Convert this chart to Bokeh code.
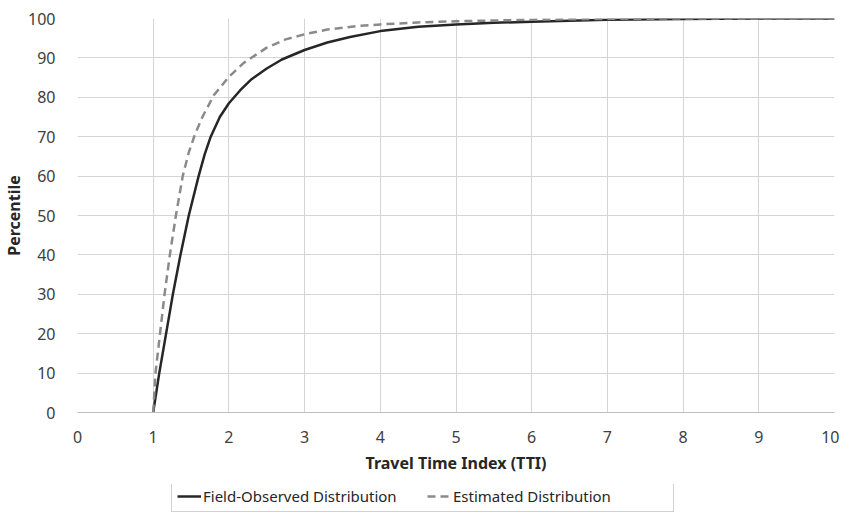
from bokeh.plotting import figure
from bokeh.layouts import column
from bokeh.models import Legend, LegendItem, FixedTicker, Range1d
from bokeh.embed import file_html
from bokeh.resources import INLINE

# Field-observed distribution (solid)
tti_observed = [1.0, 1.08, 1.17, 1.26, 1.36, 1.47, 1.60, 1.68, 1.76, 1.88, 2.0, 2.15, 2.3, 2.5, 2.7,
                3.0, 3.3, 3.6, 4.0, 4.5, 5.0, 5.5, 6.0, 7.0, 8.0, 9.0, 10.0]
pct_observed = [0, 10, 20, 30, 40, 50, 60, 65.5, 70, 75, 78.5, 81.8, 84.6, 87.3, 89.6,
                92.0, 93.9, 95.3, 96.8, 97.9, 98.5, 98.9, 99.2, 99.7, 99.9, 100, 100]

# Estimated distribution (dashed)
tti_estimated = [1.0, 1.03, 1.09, 1.15, 1.22, 1.30, 1.39, 1.47, 1.55, 1.65, 1.8, 2.0, 2.2, 2.5,
                 2.75, 3.0, 3.3, 3.7, 4.0, 4.5, 5.0, 6.0, 7.0, 8.0, 10.0]
pct_estimated = [0, 10, 20, 30, 40, 50, 60, 66, 70.5, 75, 80.5, 85.2, 88.8, 92.6,
                 94.7, 96.0, 97.2, 98.1, 98.5, 99, 99.3, 99.7, 99.9, 100, 100]

x_ticks = [0, 1, 2, 3, 4, 5, 6, 7, 8, 9, 10]
y_ticks = [0, 10, 20, 30, 40, 50, 60, 70, 80, 90, 100]

FONT = "Noto Sans"
SOLID_STYLE = dict(line_color="#262626", line_width=2.5)
DASH_STYLE = dict(line_color="#8a8a8a", line_width=2.5, line_dash="8 5")

p = figure(frame_width=757, frame_height=394, output_backend="svg", toolbar_location=None,
           x_range=Range1d(0, 10), y_range=Range1d(0, 100),
           min_border_left=76, min_border_right=5, min_border_top=18, min_border_bottom=72)
p.outline_line_color = None

p.line(tti_observed, pct_observed, **SOLID_STYLE)
p.line(tti_estimated, pct_estimated, **DASH_STYLE)

for ax in (p.xaxis[0], p.yaxis[0]):
    ax.major_label_text_font = FONT
    ax.major_label_text_font_size = "16px"
    ax.major_label_text_color = "#404040"
    ax.axis_label_text_font = FONT
    ax.axis_label_text_font_size = "16px"
    ax.axis_label_text_font_style = "bold"
    ax.axis_label_text_color = "#262626"
    ax.major_tick_line_color = None
    ax.minor_tick_line_color = None

p.xaxis.ticker = FixedTicker(ticks=x_ticks)
p.yaxis.ticker = FixedTicker(ticks=y_ticks)
p.xaxis.axis_label = "Travel Time Index (TTI)"
p.yaxis.axis_label = "Percentile"
p.xaxis.axis_line_color = "#bfbfbf"
p.yaxis.axis_line_color = None
p.xaxis.major_label_standoff = 12
p.yaxis.major_label_standoff = 16
p.xaxis.axis_label_standoff = 6
p.yaxis.axis_label_standoff = 0

p.xgrid.grid_line_color = "#d4d4d4"
p.ygrid.grid_line_color = "#d4d4d4"
p.xgrid.ticker = FixedTicker(ticks=x_ticks)
p.ygrid.ticker = FixedTicker(ticks=y_ticks)

# Legend strip below the chart (its lines reuse the series, kept outside the visible range)
lg = figure(width=838, height=28, output_backend="svg", toolbar_location=None,
            x_range=Range1d(-20, -10), y_range=Range1d(0, 100),
            min_border_left=0, min_border_right=0, min_border_top=0, min_border_bottom=0)
lg.axis.visible = False
lg.grid.visible = False
lg.outline_line_color = None
ls = lg.line(tti_observed, pct_observed, **SOLID_STYLE)
ld = lg.line(tti_estimated, pct_estimated, **DASH_STYLE)

legend = Legend(items=[LegendItem(label="Field-Observed Distribution", renderers=[ls]),
                       LegendItem(label="Estimated Distribution", renderers=[ld])],
                orientation="horizontal", location=(94, 0),
                label_text_font=FONT, label_text_font_size="15px", label_text_color="#262626",
                border_line_color="#a6a6a6", border_line_width=1,
                glyph_width=24, glyph_height=16, label_standoff=2, spacing=9,
                label_width=215, padding=5, margin=0, label_height=16)
lg.add_layout(legend, "center")

layout = column(p, lg, spacing=0)
open("out.html", "w").write(file_html(layout, INLINE))
